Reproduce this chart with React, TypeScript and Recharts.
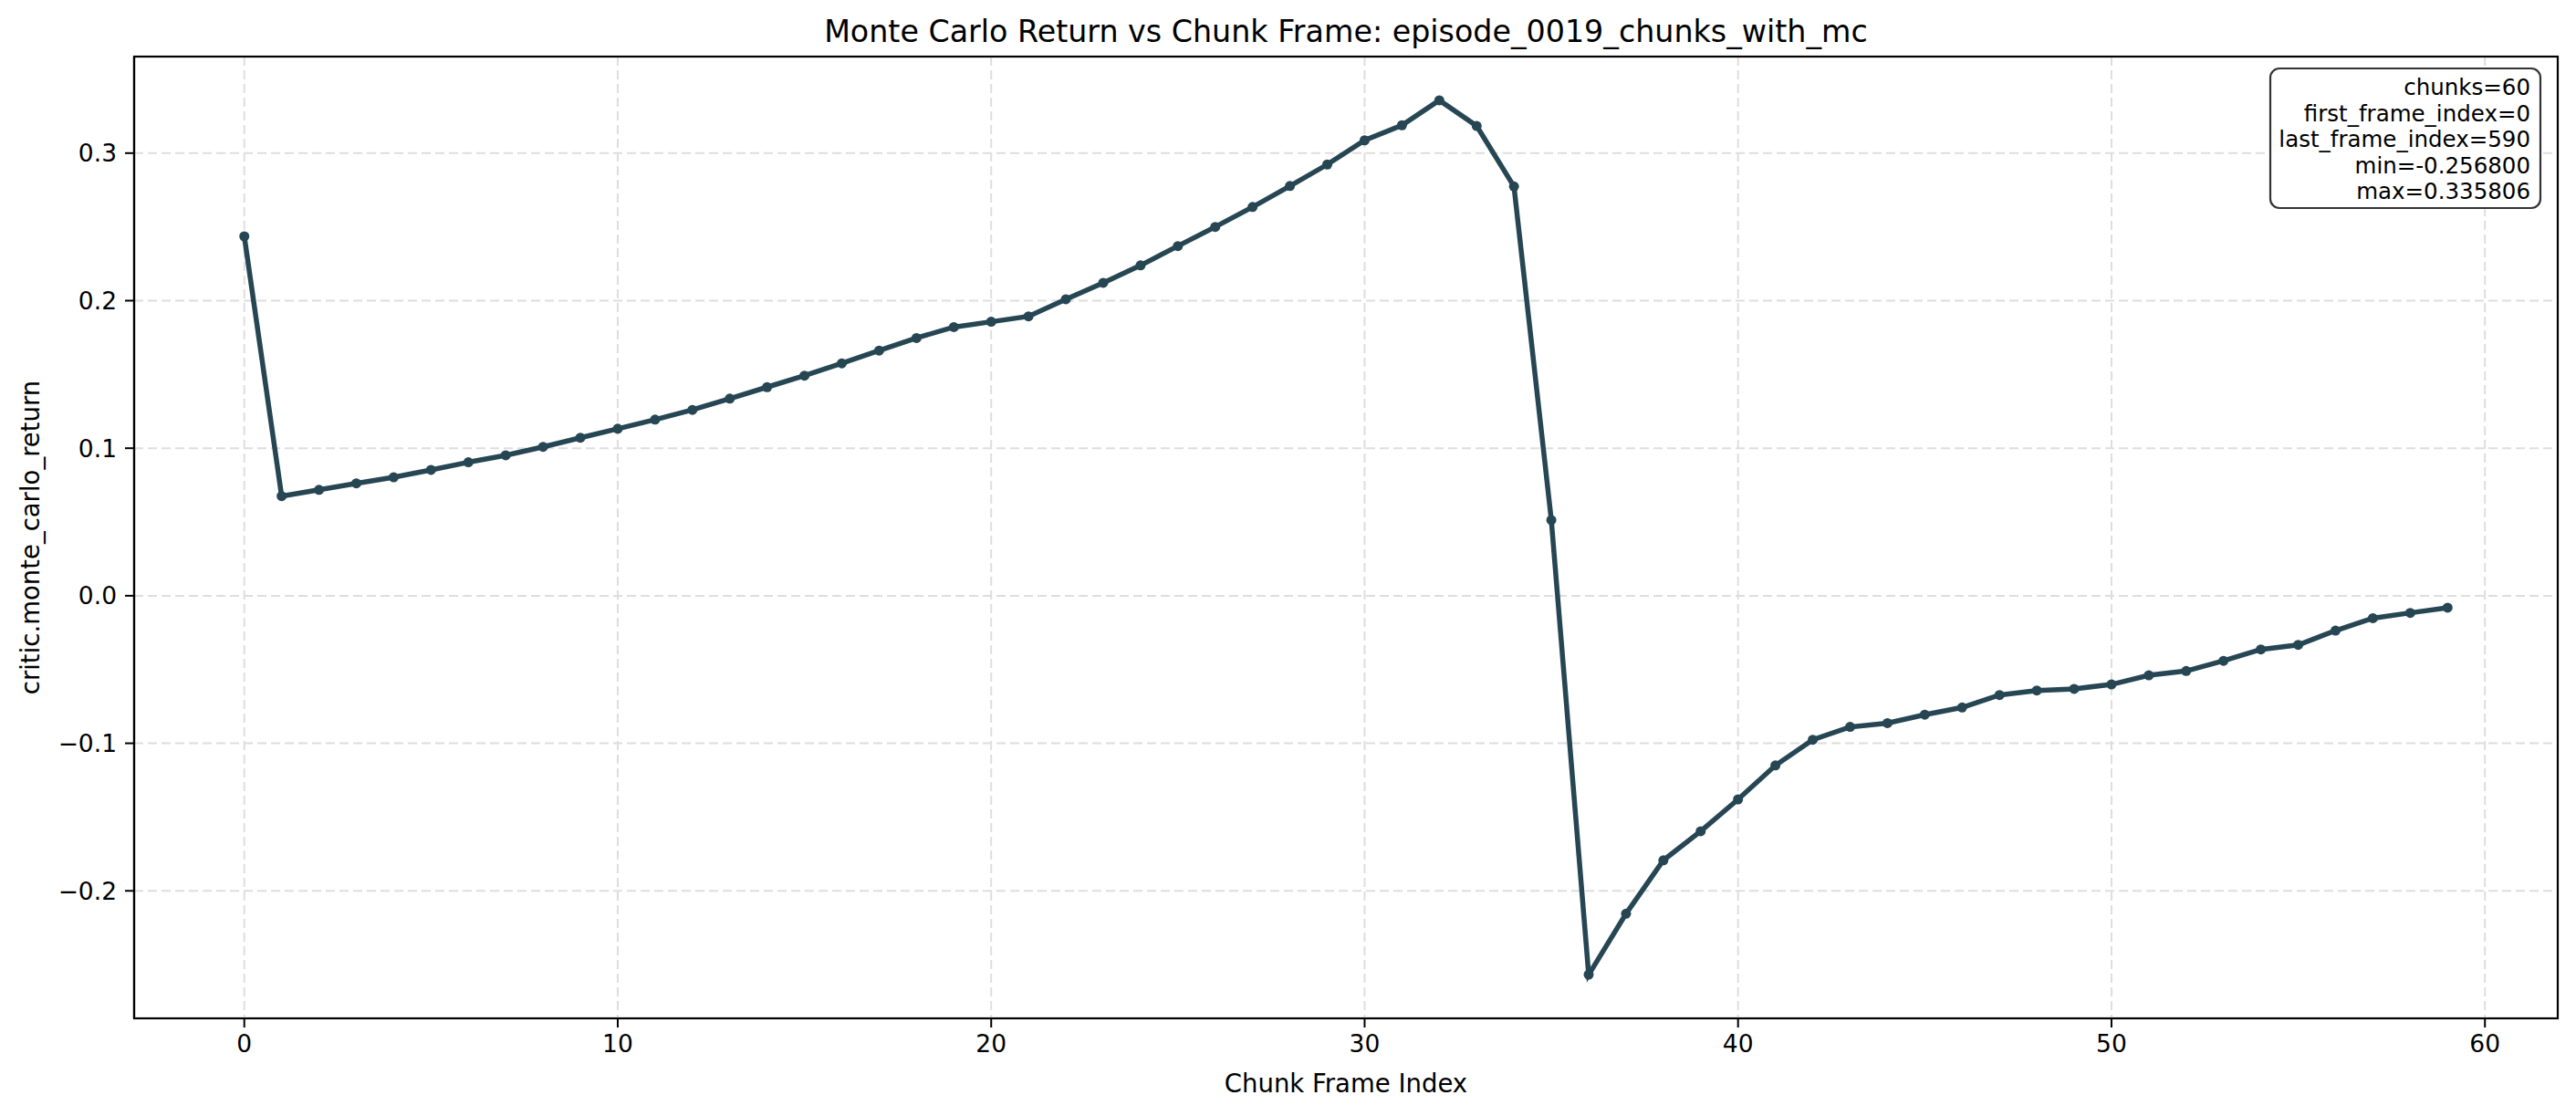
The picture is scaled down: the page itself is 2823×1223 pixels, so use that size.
import { LineChart, Line, XAxis, YAxis, CartesianGrid } from "recharts";

const chunkIndex = [
  0, 1, 2, 3, 4, 5, 6, 7, 8, 9, 10, 11, 12, 13, 14, 15, 16, 17, 18, 19,
  20, 21, 22, 23, 24, 25, 26, 27, 28, 29, 30, 31, 32, 33, 34, 35, 36, 37, 38, 39,
  40, 41, 42, 43, 44, 45, 46, 47, 48, 49, 50, 51, 52, 53, 54, 55, 56, 57, 58, 59,
];

const mcReturn = [
  0.2436, 0.0675, 0.0718, 0.0762, 0.0803, 0.0853, 0.0905, 0.0952, 0.1009, 0.1071,
  0.1132, 0.1194, 0.126, 0.1336, 0.1414, 0.1492, 0.1575, 0.1662, 0.1747, 0.1821,
  0.1857, 0.1894, 0.201, 0.2121, 0.2239, 0.237, 0.25, 0.2635, 0.2777, 0.2923,
  0.3087, 0.3189, 0.335806, 0.3184, 0.2774, 0.0513, -0.2568, -0.2155, -0.1793, -0.1596,
  -0.138, -0.115, -0.0976, -0.0889, -0.0863, -0.0806, -0.0757, -0.0673, -0.0642, -0.0631,
  -0.0601, -0.0539, -0.051, -0.0441, -0.0364, -0.0333, -0.0236, -0.0152, -0.0116, -0.0081,
];

const xTicks = [0, 10, 20, 30, 40, 50, 60];
const yTicks = [-0.2, -0.1, 0.0, 0.1, 0.2, 0.3];

const statLines = [
  "chunks=60",
  "first_frame_index=0",
  "last_frame_index=590",
  "min=-0.256800",
  "max=0.335806",
];

const TITLE = "Monte Carlo Return vs Chunk Frame: episode_0019_chunks_with_mc";
const X_LABEL = "Chunk Frame Index";
const Y_LABEL = "critic.monte_carlo_return";

const W = 2823;
const H = 1223;
const PLOT = { left: 147, top: 62, right: 2803, bottom: 1116 };
const LINE_COLOR = "#264653";
const FONT = "DejaVu Sans, sans-serif";

// matplotlib-style 5% margins around the data
const xMin = -2.95;
const xMax = 61.95;
const yMin = -0.28643;
const yMax = 0.36544;

const data = chunkIndex.map((idx, i) => ({ idx, value: mcReturn[i] }));

const fmtY = (v: number) => v.toFixed(1).replace("-", "\u2212");

export default function App() {
  const tickStyle = { fontSize: 26.5, fill: "#000", fontFamily: FONT };
  return (
    <div
      style={{
        position: "absolute",
        left: 0,
        top: 0,
        width: W,
        height: H,
        background: "#fff",
        fontFamily: FONT,
      }}
    >
      <LineChart
        width={W}
        height={H}
        data={data}
        margin={{ top: PLOT.top, right: W - PLOT.right, bottom: 0, left: 0 }}
      >
        <CartesianGrid
          stroke="#dedede"
          strokeWidth={2}
          strokeDasharray="10 5"
          horizontalValues={yTicks}
          verticalValues={xTicks}
        />
        <XAxis
          dataKey="idx"
          type="number"
          domain={[xMin, xMax]}
          ticks={xTicks}
          allowDataOverflow
          height={H - PLOT.bottom}
          tick={tickStyle}
          tickSize={10}
          tickMargin={8}
          stroke="#000"
          axisLine={{ stroke: "#000", strokeWidth: 2.2 }}
          tickLine={{ stroke: "#000", strokeWidth: 2 }}
        />
        <YAxis
          type="number"
          domain={[yMin, yMax]}
          ticks={yTicks}
          allowDataOverflow
          width={PLOT.left}
          tick={tickStyle}
          tickFormatter={fmtY}
          tickSize={10}
          tickMargin={9}
          stroke="#000"
          axisLine={{ stroke: "#000", strokeWidth: 2.2 }}
          tickLine={{ stroke: "#000", strokeWidth: 2 }}
        />
        <Line
          type="linear"
          dataKey="value"
          stroke={LINE_COLOR}
          strokeWidth={5.5}
          dot={{ r: 5.5, fill: LINE_COLOR, stroke: LINE_COLOR, strokeWidth: 0 }}
          activeDot={false}
          isAnimationActive={false}
        />
      </LineChart>
      <svg
        width={W}
        height={H}
        style={{ position: "absolute", left: 0, top: 0, pointerEvents: "none" }}
      >
        <rect
          x={PLOT.left}
          y={PLOT.top}
          width={PLOT.right - PLOT.left}
          height={PLOT.bottom - PLOT.top}
          fill="none"
          stroke="#000"
          strokeWidth={2.2}
        />
        <text
          x={(PLOT.left + PLOT.right) / 2}
          y={46}
          textAnchor="middle"
          fontSize={33.3}
          fontFamily={FONT}
          fill="#000"
        >
          {TITLE}
        </text>
        <text
          x={(PLOT.left + PLOT.right) / 2}
          y={1197}
          textAnchor="middle"
          fontSize={27.5}
          fontFamily={FONT}
          fill="#000"
        >
          {X_LABEL}
        </text>
        <text
          transform={`translate(43, ${(PLOT.top + PLOT.bottom) / 2}) rotate(-90)`}
          textAnchor="middle"
          fontSize={27.5}
          fontFamily={FONT}
          fill="#000"
        >
          {Y_LABEL}
        </text>
        <rect
          x={2488}
          y={75}
          width={296}
          height={153}
          rx={10}
          fill="#fff"
          stroke="#333"
          strokeWidth={2.2}
        />
        {statLines.map((s, i) => (
          <text
            key={s}
            x={2773}
            y={104 + i * 28.5}
            textAnchor="end"
            fontSize={24.5}
            fontFamily={FONT}
            fill="#000"
          >
            {s}
          </text>
        ))}
      </svg>
    </div>
  );
}
